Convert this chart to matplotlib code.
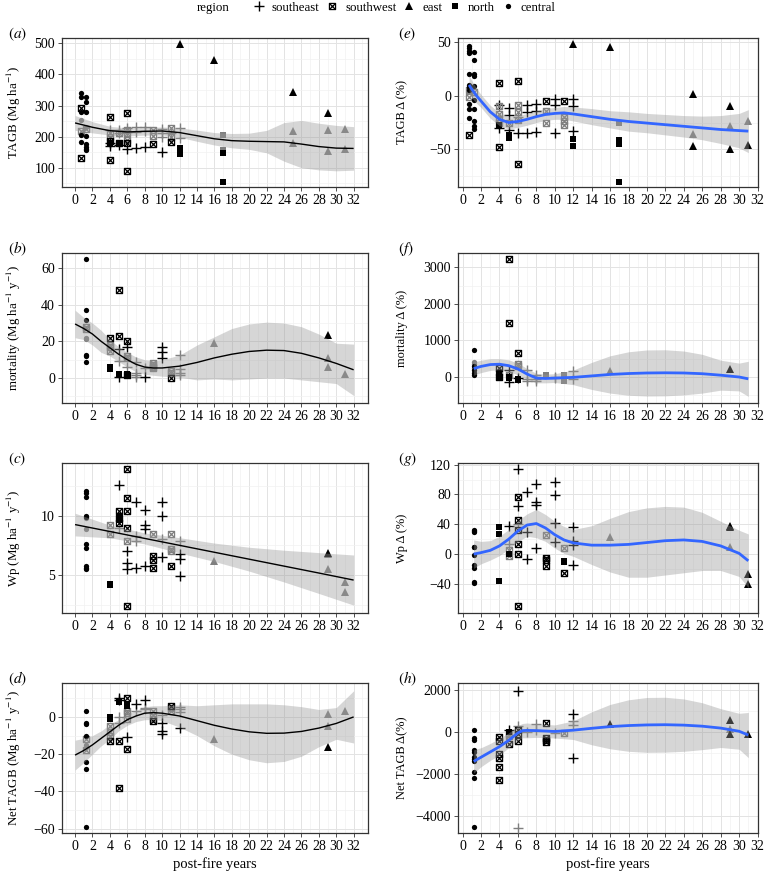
import matplotlib
matplotlib.use("Agg")
import matplotlib.pyplot as plt
from matplotlib.path import Path
from matplotlib.lines import Line2D
from matplotlib.ticker import MultipleLocator

plt.rcParams["font.family"] = ["Liberation Serif", "DejaVu Serif"]
plt.rcParams["mathtext.fontset"] = "stix"

# ---------------- data ----------------
# codes: se=southeast, sw=southwest, e=east, n=north, c=central ; k=black, g=grey

# (a) TAGB
a_x = [0.7, 0.7, 0.7, 0.7, 0.7, 0.7, 0.7, 0.7, 0.7,
       1.2, 1.2, 1.2, 1.2, 1.2, 1.2, 1.2, 1.2, 1.2, 1.2,
       4, 4, 4, 4, 4, 4, 4, 4, 4,
       5, 5, 5, 5, 5, 5,
       6, 6, 6, 6, 6, 6, 6, 6, 6,
       7, 7, 7, 8, 8, 8, 9, 9, 9, 10, 10, 10, 10, 11, 11, 11, 11,
       12, 12, 12, 12, 12, 16, 17, 17, 17, 17, 25, 25, 25, 29, 29, 29, 31, 31]
a_y = [340, 326, 280, 205, 183, 292, 130, 218, 252,
       328, 310, 278, 203, 175, 168, 160, 156, 225, 232,
       263, 125, 210, 200, 222, 178, 170, 186, 180,
       213, 220, 210, 178, 172, 175,
       277, 89, 222, 212, 190, 160, 180, 228, 215,
       232, 215, 162, 232, 218, 165, 222, 202, 175, 225, 210, 200, 152, 228, 200, 183, 210,
       497, 162, 145, 228, 197, 445, 205, 158, 148, 55, 345, 218, 178, 275, 222, 153, 226, 160]
a_reg = ["c", "c", "c", "c", "c", "sw", "sw", "sw", "c",
         "c", "c", "c", "c", "c", "c", "c", "c", "sw", "c",
         "sw", "sw", "sw", "sw", "se", "se", "se", "sw", "n",
         "sw", "se", "se", "sw", "se", "n",
         "sw", "sw", "sw", "sw", "sw", "se", "sw", "se", "se",
         "se", "se", "se", "se", "se", "se", "sw", "sw", "sw", "se", "se", "se", "se", "sw", "sw", "sw", "se",
         "e", "n", "n", "se", "se", "e", "n", "n", "n", "n", "e", "e", "e", "e", "e", "e", "e", "e"]
a_tone = ["k", "k", "k", "k", "k", "k", "k", "g", "g",
          "k", "k", "k", "k", "k", "k", "k", "k", "g", "g",
          "k", "k", "g", "g", "g", "k", "k", "k", "k",
          "g", "g", "g", "k", "k", "k",
          "k", "k", "g", "g", "g", "k", "k", "g", "g",
          "g", "g", "k", "g", "g", "k", "g", "g", "k", "g", "g", "g", "k", "g", "g", "k", "g",
          "k", "k", "k", "g", "g", "k", "g", "g", "k", "k", "k", "g", "g", "k", "g", "g", "g", "g"]
a_fit_x = [0, 2, 4, 6, 8, 10, 12, 14, 16, 18, 20, 22, 24, 26, 28, 30, 32]
a_fit_y = [244, 230, 219, 215, 217, 218, 213, 203, 193, 187, 185, 184, 183, 176, 168, 163, 162]
a_fit_hi = [268, 248, 233, 228, 229, 231, 228, 221, 213, 210, 211, 220, 245, 252, 243, 236, 232]
a_fit_lo = [220, 212, 205, 202, 205, 205, 198, 185, 173, 164, 159, 148, 121, 100, 93, 90, 92]

# (e) TAGB change (%)
e_x = [0.7] * 14 + [1.2] * 11 + [4] * 9 + [5] * 6 + [6] * 7 + [7] * 3 + [8] * 3 + [9] * 3 + [10] * 3 + [11] * 4 + \
      [12] * 6 + [16] + [17] * 4 + [25] * 3 + [29] * 3 + [31] * 2
e_y = [46, 44, 42, 40, 20, 10, 8, 5, -8, -12, -21, -37, 5, -1,
       41, 33, 20, 18, 9, -4, -12, -24, -28, -31, 3,
       12, -48, -10, -17, -22, -25, -9, -30, -27,
       -11, -18, -32, -25, -37, -39,
       14, -64, -9, -15, -23, -35, -20,
       -9, -15, -35, -8, -14, -34, -5, -14, -25, -3, -9, -35, -5, -20, -24, -27,
       48, -3, -10, -33, -40, -47, 45, -25, -41, -45, -80, 2, -36, -47, -10, -28, -50, -24, -46]
e_reg = ["c"] * 11 + ["sw"] * 3 + ["c"] * 10 + ["sw"] + \
        ["sw"] * 6 + ["se", "se", "n"] + ["se", "se", "se", "sw", "n", "n"] + \
        ["sw", "sw", "sw", "sw", "sw", "se", "se"] + ["se"] * 6 + ["sw"] * 3 + ["se"] * 3 + ["sw"] * 4 + \
        ["e", "se", "se", "se", "n", "n", "e", "n", "n", "n", "n"] + ["e"] * 8
e_tone = ["k"] * 12 + ["g", "g"] + ["k"] * 10 + ["g"] + \
         ["k", "k", "g", "g", "g", "g", "k", "k", "k"] + ["k", "k", "k", "g", "k", "k"] + \
         ["k", "k", "g", "g", "g", "k", "g"] + ["k"] * 6 + ["k", "g", "g"] + ["k"] * 3 + ["k", "g", "g", "g"] + \
         ["k"] * 7 + ["g", "k", "k", "k", "k", "g", "k", "k", "g", "k", "g", "k"]
e_fit_x = [0.7, 1, 1.5, 2, 3, 4, 5, 6, 7, 8, 9, 10, 11, 12, 14, 16, 18, 20, 22, 24, 26, 28, 30, 31]
e_fit_y = [10, 6, 0, -5, -15, -22, -25, -24, -22, -19.5, -17.5, -16.5, -16, -17, -19.5, -22, -24, -25.5,
           -27, -28.5, -30, -31.5, -32.5, -33]
e_fit_hi = [19, 14, 7, 1, -9, -16, -19, -18.5, -16.5, -14, -12, -11, -10, -10.5, -12, -14, -15, -16.5,
            -17.5, -18.5, -19, -18.5, -16.5, -13]
e_fit_lo = [1, -2, -7, -11, -21, -28, -31, -29.5, -27.5, -25, -23, -22, -22, -23.5, -27, -30, -33, -34.5,
            -36.5, -38.5, -41, -44.5, -48.5, -53]

# (b) mortality
b_x = [1.2] * 10 + [4] * 6 + [5] * 7 + [6] * 8 + [7] * 4 + [8] * 2 + [9] * 4 + [10] * 3 + [11] * 3 + \
      [12] * 4 + [16] + [29] * 3 + [31]
b_y = [65, 37, 31.5, 12.5, 12, 9, 28, 27, 22, 21.5,
       22, 18, 17, 15, 6, 5,
       48, 23, 16, 9.5, 2, 1.5, 0.5,
       20, 17, 12, 11, 6, 2, 1, 1.5,
       8.5, 3, 1.5, 0.5, 0.5, 5.5, 8, 7, 6, 5.5, 17, 14, 11, 4, 2.5, 0.3,
       12.5, 5, 3, 1.5, 19, 23.5, 11, 6, 2]
b_reg = ["c"] * 6 + ["sw", "sw", "c", "c"] + ["sw"] * 4 + ["n", "n"] + \
        ["sw", "sw", "se", "se", "n", "n", "se"] + ["sw", "se", "sw", "sw", "se", "n", "n", "sw"] + \
        ["se"] * 6 + ["sw"] * 4 + ["se"] * 3 + ["sw"] * 3 + ["se"] * 4 + ["e"] * 5
b_tone = ["k"] * 6 + ["g"] * 4 + ["k", "g", "g", "g", "k", "k"] + \
         ["k", "k", "k", "g", "k", "k", "k"] + ["k", "k", "g", "g", "g", "k", "k", "k"] + \
         ["g"] * 4 + ["k", "g"] + ["g"] * 4 + ["k"] * 3 + ["g", "g", "k"] + ["g"] * 4 + \
         ["g", "k", "g", "g", "g"]
b_fit_x = [0, 1, 2, 3, 4, 5, 6, 7, 8, 9, 10, 12, 14, 16, 18, 20, 22, 24, 26, 28, 30, 32]
b_fit_y = [29.5, 27, 24, 20, 16.5, 13, 10, 7.5, 6, 5.5, 5.5, 6.5, 8.5, 11, 13, 14.5, 15.2, 15, 13.5, 11, 8, 4.5]
b_fit_hi = [37, 33, 30, 26, 21, 17, 14, 11.5, 10, 9.5, 10, 12.5, 18, 22.5, 27, 29.5, 30.5, 30, 28, 24, 19, 18.5]
b_fit_lo = [22, 21, 18, 14, 12, 9, 6, 3.5, 2, 1.5, 1, 0.5, -1, -0.5, -1, -0.5, 0, 0, -1, -2, -3, -9.5]

# (f) mortality change (%)
f_x = [1.2] * 8 + [4] * 5 + [5] * 7 + [6] * 6 + [7] * 3 + [8] * 3 + [9] + [10] * 2 + [11] * 2 + \
      [12] * 2 + [16] + [29] * 3 + [31]
f_y = [750, 300, 200, 100, 50, 400, 350, 250,
       250, 150, 100, 0, -10,
       3230, 1470, 190, 50, 0, -20, -150,
       650, 350, 300, -50, -80, -30,
       200, -50, -100, 50, -50, -100, 50, 0, -30, 50, -100, 155, -50, 155, 230, 50, -20, -75]
f_reg = ["c"] * 8 + ["sw", "sw", "n", "n", "sw"] + ["sw", "sw", "se", "sw", "n", "n", "se"] + \
        ["sw", "sw", "sw", "n", "n", "se"] + ["se"] * 6 + ["n"] + ["se"] * 2 + ["n"] * 2 + ["se"] * 2 + ["e"] * 5
f_tone = ["k"] * 5 + ["g"] * 3 + ["k", "g", "k", "k", "k"] + ["k", "k", "k", "g", "k", "k", "k"] + \
         ["k", "g", "g", "k", "k", "k"] + ["g"] * 14 + ["k"]
f_fit_x = [1.2, 2, 3, 4, 5, 6, 7, 8, 9, 10, 12, 14, 16, 18, 20, 22, 24, 26, 28, 30, 31]
f_fit_y = [230, 290, 340, 350, 310, 220, 80, -30, -40, -30, -10, 30, 70, 95, 110, 115, 110, 90, 50, 0, -50]
f_fit_hi = [410, 460, 500, 500, 470, 380, 230, 100, 80, 90, 190, 400, 580, 690, 740, 745, 710, 620, 460, 380, 430]
f_fit_lo = [50, 120, 180, 200, 150, 60, -70, -160, -160, -150, -210, -340, -440, -500, -520, -515, -490, -440,
            -360, -380, -530]

# (c) Wp
c_x = [1.2] * 12 + [4] * 4 + [5] * 7 + [6] * 9 + [7] * 4 + [8] * 4 + [9] * 4 + [10] * 4 + [11] * 4 + \
      [12] * 4 + [16] + [29] * 3 + [31] * 2
c_y = [12.1, 11.9, 11.6, 10.0, 9.9, 7.6, 7.3, 5.8, 5.6, 5.5, 9.8, 8.9,
       9.2, 8.5, 4.3, 4.2,
       12.6, 10.4, 10.0, 9.8, 9.6, 9.4, 9.0,
       13.9, 11.5, 10.4, 9.0, 7.9, 7.0, 6.0, 5.5, 2.4,
       11.1, 8.3, 7.9, 5.6, 10.5, 9.2, 8.9, 5.8, 8.5, 6.6, 6.3, 5.6, 11.1, 10.0, 8.0, 6.5,
       8.5, 7.2, 7.0, 5.8, 7.9, 6.8, 6.4, 4.9, 6.2, 6.9, 6.8, 5.5, 4.4, 3.6]
c_reg = ["c"] * 12 + ["sw", "sw", "n", "n"] + ["se", "sw", "n", "sw", "n", "sw", "se"] + \
        ["sw"] * 5 + ["se"] * 3 + ["sw"] + ["se"] * 8 + ["sw"] * 4 + ["se"] * 4 + ["sw"] * 4 + ["se"] * 4 + \
        ["e"] * 6
c_tone = ["k"] * 10 + ["g", "g"] + ["g", "g", "k", "k"] + ["k"] * 6 + ["g"] + \
         ["k", "k", "k", "k", "g", "k", "k", "k", "k"] + ["k", "g", "g", "k"] + ["k"] * 4 + \
         ["g", "k", "k", "k"] + ["k", "k", "g", "k"] + ["g", "g", "g", "k"] + ["g", "k", "k", "k"] + \
         ["g", "k", "g", "g", "g", "g"]
c_fit_x = [0, 4, 8, 12, 16, 20, 24, 28, 32]
c_fit_y = [9.25, 8.67, 8.09, 7.51, 6.93, 6.35, 5.77, 5.19, 4.6]
c_fit_hi = [10.2, 9.2, 8.55, 8.15, 7.7, 7.35, 7.1, 6.9, 6.7]
c_fit_lo = [8.3, 8.14, 7.63, 6.87, 6.16, 5.35, 4.44, 3.48, 2.5]

# (g) Wp change (%)
g_x = [1.2] * 10 + [4] * 3 + [5] * 5 + [6] * 9 + [7] * 3 + [8] * 4 + [9] * 4 + [10] * 4 + [11] * 4 + \
      [12] * 4 + [16] + [29] * 3 + [31] * 2
g_y = [33, 31, 29, 10, 9, -1, -15, -18, -37, -39,
       37, 27, -36,
       38, 13, 5, -3, 0,
       114, 76, 65, 46, 40, 32, 14, 0, -70,
       83, 30, -7, 94, 70, 66, 8, 26, -5, -8, -16, 97, 79, 42, 16,
       8, -9, -10, -26, 37, 17, 12, -15, 23, 38, 36, 10, -27, -40]
g_reg = ["c"] * 10 + ["n"] * 3 + ["se", "se", "sw", "sw", "n"] + \
        ["se", "sw", "se", "sw", "se", "sw", "sw", "sw", "sw"] + ["se"] * 7 + ["sw"] * 4 + ["se"] * 4 + \
        ["sw", "n", "n", "sw"] + ["se"] * 4 + ["e"] * 6
g_tone = ["k"] * 13 + ["k", "g", "g", "g", "k"] + ["k", "k", "k", "k", "g", "k", "k", "k", "k"] + \
         ["k"] * 7 + ["g", "k", "k", "k"] + ["k"] * 4 + ["g", "k", "k", "k"] + ["k"] * 4 + \
         ["g", "k", "k", "g", "k", "k"]
g_fit_x = [1.2, 2, 3, 4, 5, 6, 7, 8, 9, 10, 11, 12, 14, 16, 18, 20, 22, 24, 26, 28, 30, 31]
g_fit_y = [0, 2, 5, 11, 20, 31, 39, 41, 35, 26, 19, 15, 12, 12, 13, 15.5, 18, 19, 17, 11, 1, -9]
g_fit_hi = [19, 17, 18, 24, 33, 45, 54, 60, 53, 44, 37, 33, 38, 48, 57, 62, 64, 63, 56, 44, 32, 27]
g_fit_lo = [-19, -13, -8, -2, 7, 17, 24, 22, 17, 8, 1, -3, -14, -24, -31, -31, -28, -25, -22, -22, -30, -45]

# (d) Net TAGB
d_x = [1.2] * 10 + [4] * 6 + [5] * 7 + [6] * 8 + [7] * 2 + [8] * 3 + [9] * 4 + [10] * 4 + [11] * 3 + \
      [12] * 4 + [16] + [29] * 3 + [31]
d_y = [3, -3, -4, -10, -24, -28, -59, -12, -15, -18,
       0, -1, -5, -8, -10, -13,
       10, 9, 8, 0, -3, -13, -38,
       10, 7, 6, 3, 2, -1, -11, -17,
       7, 3, 9, 5, 4, 3, 1, -1, -2, 1, -3, -7.5, -9, 6, 5, 3,
       5.5, 4, 2.5, -6, -12, 1.5, -5, -16, 3]
d_reg = ["c"] * 7 + ["sw", "c", "sw"] + ["n", "n", "sw", "sw", "sw", "sw"] + \
        ["se", "se", "n", "se", "se", "sw", "sw"] + ["sw", "n", "n", "sw", "sw", "sw", "se", "sw"] + \
        ["se"] * 5 + ["sw"] * 4 + ["se"] * 4 + ["sw"] * 3 + ["se"] * 4 + ["e"] * 5
d_tone = ["k"] * 7 + ["g"] * 3 + ["k", "k", "g", "g", "g", "k"] + ["k", "k", "k", "g", "g", "k", "k"] + \
         ["k", "k", "k", "g", "g", "g", "k", "k"] + ["k", "g", "k", "g", "g"] + ["g", "g", "g", "k"] + \
         ["g", "k", "k", "k"] + ["k", "g", "g"] + ["g", "g", "g", "k"] + ["g", "g", "g", "k", "g"]
d_fit_x = [0, 1, 2, 3, 4, 5, 6, 7, 8, 9, 10, 12, 14, 16, 18, 20, 22, 24, 26, 28, 30, 32]
d_fit_y = [-20.5, -18, -15, -11.5, -8, -4.5, -1.5, 0.5, 2, 2.3, 2, 0.5, -2, -4.5, -6.5, -8, -8.8, -8.7, -7.8,
           -6, -3.5, 0]
d_fit_hi = [-12.5, -11.5, -10, -7.5, -4, -1.5, 1.5, 3.5, 5.5, 6, 6, 6.5, 6, 6.5, 7, 7, 7, 6.5, 5.5, 4, 5, 14]
d_fit_lo = [-28.5, -24.5, -20, -15.5, -12, -7.5, -4.5, -2.5, -1.5, -1.4, -2, -5.5, -10, -15.5, -20, -23, -24.6,
            -23.9, -21.1, -16, -12, -14]

# (h) Net TAGB change (%)
h_x = [1.2] * 11 + [4] * 6 + [5] * 5 + [6] * 6 + [7] + [8] * 2 + [9] * 4 + [10] + [11] + [12] * 4 + \
      [16] + [29] * 3 + [31]
h_y = [110, -300, -390, -850, -970, -1200, -1290, -1390, -1900, -2190, -4500,
       -220, -410, -1070, -1250, -1640, -2300,
       95, 0, -100, -200, -570,
       1950, 300, 100, -100, -440, -4530,
       0, 380, 100, 410, -300, -400, -500, -50, -50, 860, 510, 320, -1220, 390, 580, 150, -100, -120]
h_reg = ["c"] * 11 + ["sw"] * 6 + ["se", "n", "sw", "sw", "sw"] + ["se", "se", "sw", "sw", "sw", "se"] + \
        ["se"] * 3 + ["sw"] * 4 + ["se", "sw"] + ["se"] * 4 + ["e"] * 5
h_tone = ["k"] * 17 + ["k", "k", "g", "g", "k"] + ["k", "g", "k", "k", "k", "g"] + ["g"] * 3 + \
         ["k"] * 4 + ["g", "g"] + ["k", "g", "g", "k"] + ["k", "k", "g", "k", "k"]
h_fit_x = [1.2, 2, 3, 4, 5, 6, 6.5, 7, 8, 10, 12, 14, 16, 18, 20, 22, 24, 26, 28, 30, 31]
h_fit_y = [-1400, -1200, -950, -700, -400, -50, 60, 70, 60, 20, 80, 170, 250, 300, 330, 340, 320, 270, 180, 30, -150]
h_fit_hi = [-850, -750, -550, -300, -50, 300, 400, 420, 380, 330, 520, 950, 1300, 1520, 1630, 1640, 1560, 1380,
            1100, 880, 920]
h_fit_lo = [-1950, -1650, -1350, -1100, -750, -400, -280, -280, -260, -290, -360, -610, -800, -920, -970, -960,
            -920, -840, -740, -820, -1220]

region_names = ["southeast", "southwest", "east", "north", "central"]
region_codes = ["se", "sw", "e", "n", "c"]

# ---------------- styling ----------------
boxx = Path([(-1, -1), (1, -1), (1, 1), (-1, 1), (-1, -1), (-1, -1), (1, 1), (-1, 1), (1, -1)],
            [Path.MOVETO, Path.LINETO, Path.LINETO, Path.LINETO, Path.CLOSEPOLY,
             Path.MOVETO, Path.LINETO, Path.MOVETO, Path.LINETO])
MARK = {"se": dict(marker="+", ms=6.5, mew=1.0),
        "sw": dict(marker=boxx, ms=4.4, mew=0.9, mfc="none"),
        "e": dict(marker="^", ms=5.4, mew=0),
        "n": dict(marker="s", ms=4.2, mew=0),
        "c": dict(marker="o", ms=3.8, mew=0)}
TONE = {"k": "#000000", "g": "#7f7f7f"}

W, H = 767, 871
fig = plt.figure(figsize=(W / 100, H / 100), dpi=100)


def px_axes(left, top, right, bottom):
    return fig.add_axes([left / W, 1 - bottom / H, (right - left) / W, (bottom - top) / H])


def draw_panel(ax, xs, ys, regs, tones, fx, fy, flo, fhi, line_col, line_w, xlim, ylim, ymajor, yminor):
    for code in region_codes:
        for tone in ["g", "k"]:
            px = [x for x, r, t in zip(xs, regs, tones) if r == code and t == tone]
            py = [y for y, r, t in zip(ys, regs, tones) if r == code and t == tone]
            if not px:
                continue
            st = dict(MARK[code])
            col = TONE[tone]
            ax.plot(px, py, ls="none", color=col, mec=col,
                    mfc=st.pop("mfc", col), zorder=3, **st)
    ax.fill_between(fx, flo, fhi, color="#999999", alpha=0.4, lw=0, zorder=4)
    ax.plot(fx, fy, color=line_col, lw=line_w, zorder=5, solid_capstyle="butt")
    ax.set_xlim(*xlim)
    ax.set_ylim(*ylim)
    ax.xaxis.set_major_locator(MultipleLocator(2))
    ax.xaxis.set_minor_locator(MultipleLocator(1))
    ax.yaxis.set_major_locator(MultipleLocator(ymajor))
    ax.yaxis.set_minor_locator(MultipleLocator(yminor))
    ax.grid(which="major", color="#e3e3e3", lw=0.7, zorder=0)
    ax.grid(which="minor", color="#f1f1f1", lw=0.5, zorder=0)
    ax.set_axisbelow(True)
    ax.tick_params(which="major", length=3, width=0.6, color="#333333", labelsize=10, pad=2,
                   labelcolor="black")
    ax.tick_params(which="minor", length=0)
    for s in ax.spines.values():
        s.set_color("#333333")
        s.set_linewidth(0.9)


rows = [(38, 187), (253, 403), (463, 613), (683, 833)]
LEFT = (62, 368)
RIGHT = (458, 758)
XL = (-1.5, 33.65)
XR = (-0.5, 32.05)

panels = [
    # left column
    (LEFT, rows[0], a_x, a_y, a_reg, a_tone, a_fit_x, a_fit_y, a_fit_lo, a_fit_hi, XL, (38, 517), 100, 50,
     r"TAGB (Mg ha$^{-1}$)", "a"),
    (LEFT, rows[1], b_x, b_y, b_reg, b_tone, b_fit_x, b_fit_y, b_fit_lo, b_fit_hi, XL, (-13.6, 68.2), 20, 10,
     r"mortality (Mg ha$^{-1}$ y$^{-1}$)", "b"),
    (LEFT, rows[2], c_x, c_y, c_reg, c_tone, c_fit_x, c_fit_y, c_fit_lo, c_fit_hi, XL, (1.84, 14.41), 5, 2.5,
     r"Wp (Mg ha$^{-1}$ y$^{-1}$)", "c"),
    (LEFT, rows[3], d_x, d_y, d_reg, d_tone, d_fit_x, d_fit_y, d_fit_lo, d_fit_hi, XL, (-62.3, 18.2), 20, 10,
     r"Net TAGB (Mg ha$^{-1}$ y$^{-1}$)", "d"),
    # right column
    (RIGHT, rows[0], e_x, e_y, e_reg, e_tone, e_fit_x, e_fit_y, e_fit_lo, e_fit_hi, XR, (-85, 53.7), 50, 25,
     "TAGB Δ (%)", "e"),
    (RIGHT, rows[1], f_x, f_y, f_reg, f_tone, f_fit_x, f_fit_y, f_fit_lo, f_fit_hi, XR, (-711, 3392), 1000, 500,
     "mortality Δ (%)", "f"),
    (RIGHT, rows[2], g_x, g_y, g_reg, g_tone, g_fit_x, g_fit_y, g_fit_lo, g_fit_hi, XR, (-79, 122.2), 40, 20,
     "Wp Δ (%)", "g"),
    (RIGHT, rows[3], h_x, h_y, h_reg, h_tone, h_fit_x, h_fit_y, h_fit_lo, h_fit_hi, XR, (-4790, 2316), 2000, 1000,
     "Net TAGB Δ(%)", "h"),
]

for (lr, tb, xs, ys, regs, tones, fx, fy, flo, fhi, xlim, ylim, ymaj, ymin, ylab, tag) in panels:
    ax = px_axes(lr[0], tb[0], lr[1], tb[1])
    is_left = lr is LEFT
    draw_panel(ax, xs, ys, regs, tones, fx, fy, flo, fhi,
               "black" if is_left else "#3366FF", 1.0 if is_left else 2.0,
               xlim, ylim, ymaj, ymin)
    ax.set_ylabel(ylab, fontsize=9.3 if is_left else 9.0)
    lab_px = 23 if is_left else 408
    ax.yaxis.set_label_coords((lab_px - lr[0]) / (lr[1] - lr[0]), 0.5)
    if tb is rows[3]:
        ax.set_xlabel("post-fire years", fontsize=10.5, labelpad=3)
    tag_x = 8 if is_left else 398
    fig.text(tag_x / W, 1 - (tb[0] - 4) / H, "$(%s)$" % tag, fontsize=11, va="center", ha="left")

# legend along the top
handles = []
for code in region_codes:
    st = dict(MARK[code])
    mfc = st.pop("mfc", "black")
    handles.append(Line2D([], [], ls="none", color="black", mec="black", mfc=mfc, **st))
fig.legend(handles, region_names, loc="center", bbox_to_anchor=(404 / W, 1 - 8 / H), ncol=5, frameon=False,
           fontsize=9.3, handlelength=1.0, handletextpad=0.5, columnspacing=0.5, borderaxespad=0)
fig.text(197 / W, 1 - 8 / H, "region", fontsize=9.3, va="center", ha="left")

fig.savefig("out.png", dpi=100)
